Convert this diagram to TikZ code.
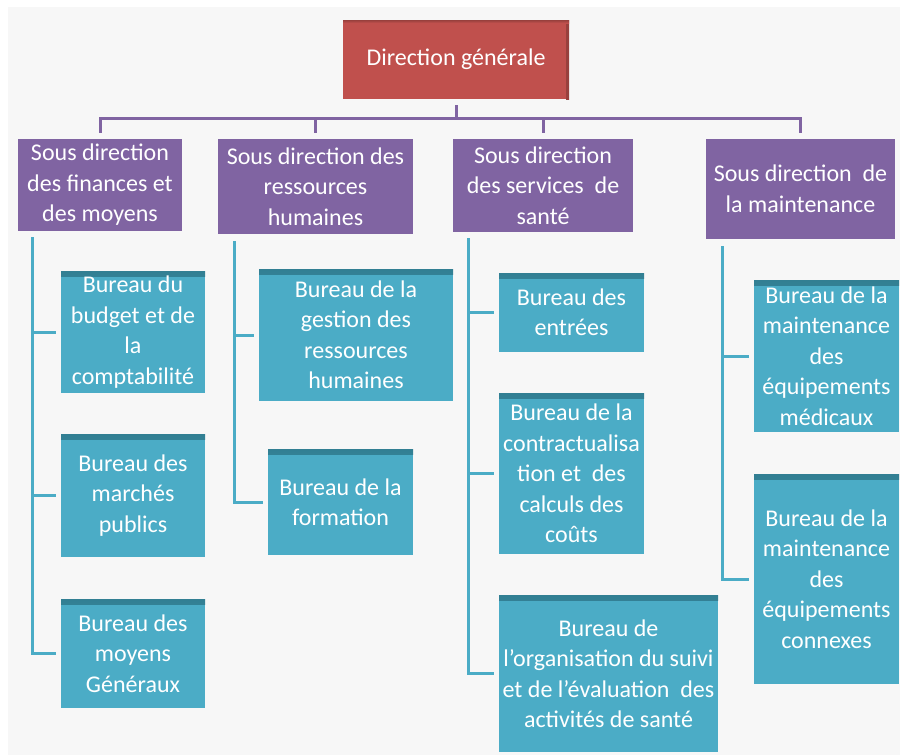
\documentclass[tikz,border=0pt]{standalone}
\usepackage{fontspec}
\setmainfont{Carlito}
\usetikzlibrary{calc}
\definecolor{bgc}{HTML}{F7F7F7}
\definecolor{redB}{HTML}{C0504D}
\definecolor{redD}{HTML}{98403D}
\definecolor{purB}{HTML}{8064A2}
\definecolor{cyaB}{HTML}{4BACC6}
\definecolor{cyaD}{HTML}{327F93}
\tikzset{
  box/.style={inner sep=0pt, align=center, text=white, font=\fontsize{24}{30.5}\selectfont},
  dgbox/.style={box, fill=redB,
    path picture={\shade[left color=redB, right color=redD] ([xshift=-3pt]path picture bounding box.north east) rectangle (path picture bounding box.south east);
                  \shade[top color=redD, bottom color=redB] (path picture bounding box.north west) rectangle ([yshift=-3pt]path picture bounding box.north east);}},
  sdbox/.style={box, fill=purB},
  bbox/.style={box, fill=cyaB,
    path picture={\shade[top color=cyaD, bottom color=cyaB] (path picture bounding box.north west) rectangle ([yshift=-5pt]path picture bounding box.north east);}},
  pline/.style={draw=purB, line width=3pt},
  cline/.style={draw=cyaB, line width=3pt},
}
\begin{document}
\begin{tikzpicture}[x=1pt, y=-1pt]
\useasboundingbox (0,0) rectangle (900,755);
\fill[bgc] (8,7) rectangle (900,755);

% direction generale
\node[dgbox, minimum width=226pt, minimum height=79pt] (dg) at (456,59.5) {Direction générale};

% sous directions
\node[sdbox, minimum width=164pt, minimum height=92pt] (sd1) at (100,185) {Sous direction\\des finances et\\des moyens};
\node[sdbox, minimum width=195pt, minimum height=95pt] (sd2) at (315.5,186.5) {Sous direction des\\ressources\\humaines};
\node[sdbox, minimum width=180pt, minimum height=93pt] (sd3) at (543,185.5) {Sous direction\\des services\ \ de\\santé};
\node[sdbox, minimum width=189pt, minimum height=100pt] (sd4) at (800.5,189) {Sous direction\ \ de\\la maintenance};

% bureaux
\node[bbox, minimum width=144pt, minimum height=122pt] (b11) at (133,332) {Bureau du\\budget et de\\la\\comptabilité};
\node[bbox, minimum width=144pt, minimum height=123pt] (b12) at (133,495.5) {Bureau des\\marchés\\publics};
\node[bbox, minimum width=144pt, minimum height=109pt] (b13) at (133,653.5) {Bureau des\\moyens\\Généraux};

\node[bbox, minimum width=194pt, minimum height=132pt] (b21) at (356,335) {Bureau de la\\gestion des\\ressources\\humaines};
\node[bbox, minimum width=145pt, minimum height=106pt] (b22) at (340.5,502) {Bureau de la\\formation};

\node[bbox, minimum width=145pt, minimum height=79pt] (b31) at (571.5,312.5) {Bureau des\\entrées};
\node[bbox, minimum width=145pt, minimum height=161pt] (b32) at (571.5,473.5) {Bureau de la\\contractualisa\\tion et\ \ des\\calculs des\\coûts};
\node[bbox, minimum width=219pt, minimum height=157pt] (b33) at (608.5,673.5) {Bureau de\\l’organisation du suivi\\et de l’évaluation\ \ des\\activités de santé};

\node[bbox, minimum width=145pt, minimum height=152pt] (b41) at (826.5,356) {Bureau de la\\maintenance\\des\\équipements\\médicaux};
\node[bbox, minimum width=145pt, minimum height=210pt] (b42) at (826.5,579) {Bureau de la\\maintenance\\des\\équipements\\connexes};

% purple connectors
\coordinate (bar) at (456,118);
\draw[pline] ([yshift=-6pt]dg.south) -- (dg.south |- bar);
\draw[pline] ([yshift=6pt]sd1.north) -- (sd1.north |- bar) -- (sd4.north |- bar) -- ([yshift=6pt]sd4.north);
\draw[pline] (sd2.north |- bar) -- ([yshift=6pt]sd2.north);
\draw[pline] (sd3.north |- bar) -- ([yshift=6pt]sd3.north);

% cyan connectors
\coordinate (c1) at ($(sd1.south west)+(15,6)$);
\coordinate (c2) at ($(sd2.south west)+(17,7)$);
\coordinate (c3) at ($(sd3.south west)+(16,6)$);
\coordinate (c4) at ($(sd4.south west)+(17,7)$);

\draw[cline] (c1) |- ([xshift=-5pt]b13.west);
\draw[cline] (c1 |- b11.west) -- ([xshift=-5pt]b11.west);
\draw[cline] (c1 |- b12.west) -- ([xshift=-5pt]b12.west);

\draw[cline] (c2) |- ([xshift=-5pt]b22.west);
\draw[cline] (c2 |- b21.west) -- ([xshift=-5pt]b21.west);

\draw[cline] (c3) |- ([xshift=-5pt]b33.west);
\draw[cline] (c3 |- b31.west) -- ([xshift=-5pt]b31.west);
\draw[cline] (c3 |- b32.west) -- ([xshift=-5pt]b32.west);

\draw[cline] (c4) |- ([xshift=-5pt]b42.west);
\draw[cline] (c4 |- b41.west) -- ([xshift=-5pt]b41.west);
\end{tikzpicture}
\end{document}
